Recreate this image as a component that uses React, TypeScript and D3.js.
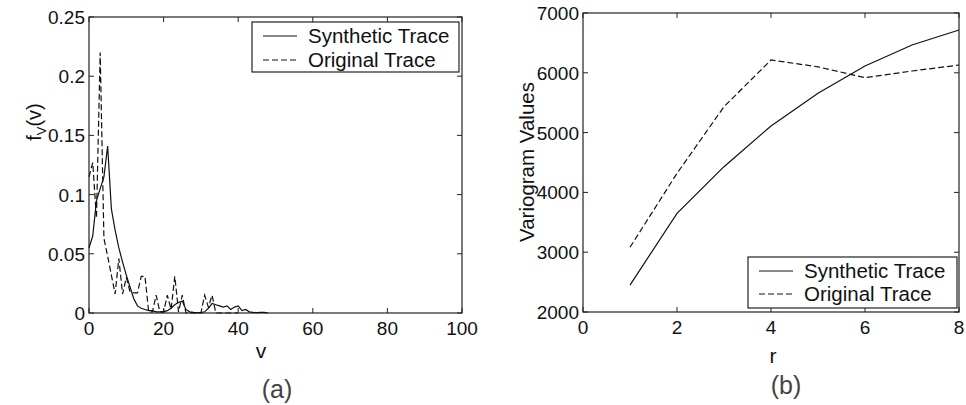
import React from "react";
import * as d3 from "d3";

// panel (a): density of v, integer v from 0
const vSynthetic = [0.055, 0.065, 0.095, 0.105, 0.115, 0.141, 0.088, 0.07, 0.055, 0.043, 0.032, 0.022, 0.012, 0.006, 0.004, 0.003, 0.002, 0.002, 0.001, 0.001, 0.001, 0.002, 0.004, 0.007, 0.009, 0.01, 0.003, 0.001, 0.0005, 0.0003, 0.0003, 0.001, 0.004, 0.008, 0.007, 0.006, 0.005, 0.006, 0.003, 0.005, 0.006, 0.002, 0.003, 0.001, 0.0005, 0.0003, 0.0005, 0.0005, 0];
const vOriginal = [0.115, 0.127, 0.08, 0.22, 0.063, 0.048, 0.032, 0.016, 0.046, 0.016, 0.03, 0.018, 0.017, 0.017, 0.031, 0.031, 0.001, 0.001, 0.015, 0.001, 0.001, 0.015, 0.003, 0.031, 0.001, 0.015, 0, 0, 0, 0, 0, 0.015, 0.005, 0.015, 0, 0, 0, 0, 0, 0, 0];
const vTicks = [0, 20, 40, 60, 80, 100];
const fTicks = [0, 0.05, 0.1, 0.15, 0.2, 0.25];

// panel (b): variogram
const rValues = [1, 2, 3, 4, 5, 6, 7, 8];
const varSynthetic = [2450, 3650, 4430, 5110, 5657, 6114, 6465, 6716];
const varOriginal = [3082, 4319, 5433, 6214, 6100, 5918, 6030, 6130];
const rTicks = [0, 2, 4, 6, 8];
const varTicks = [2000, 3000, 4000, 5000, 6000, 7000];

const legendLabels = ["Synthetic Trace", "Original Trace"];

const font = "'Liberation Sans', Arial, Helvetica, sans-serif";
const ink = "#111";
const dash = "6,3";
const tickLen = 5;

type Frame = { x: d3.ScaleLinear<number, number>; y: d3.ScaleLinear<number, number> };

function Box({ x, y, xTicks, yTicks, yFmt }: Frame & { xTicks: number[]; yTicks: number[]; yFmt: (d: number) => string }) {
  const [x0, x1] = x.range();
  const [y0, y1] = y.range();
  return (
    <g>
      <rect x={x0} y={y1} width={x1 - x0} height={y0 - y1} fill="none" stroke="#222" strokeWidth={1.2} />
      {xTicks.map((t) => (
        <g key={"x" + t}>
          <line x1={x(t)} x2={x(t)} y1={y0} y2={y0 - tickLen} stroke="#222" />
          <line x1={x(t)} x2={x(t)} y1={y1} y2={y1 + tickLen} stroke="#222" />
          <text x={x(t)} y={y0 + 22} textAnchor="middle" fontSize={19} fill={ink}>{t}</text>
        </g>
      ))}
      {yTicks.map((t) => (
        <g key={"y" + t}>
          <line x1={x0} x2={x0 + tickLen} y1={y(t)} y2={y(t)} stroke="#222" />
          <line x1={x1} x2={x1 - tickLen} y1={y(t)} y2={y(t)} stroke="#222" />
          <text x={x0 - 4} y={y(t) + 7} textAnchor="end" fontSize={19} fill={ink}>{yFmt(t)}</text>
        </g>
      ))}
    </g>
  );
}

function Legend({ x, y, w, h, rowGap }: { x: number; y: number; w: number; h: number; rowGap: number }) {
  const r1 = y + 14;
  return (
    <g>
      <rect x={x} y={y} width={w} height={h} fill="#fff" stroke="#222" strokeWidth={1.2} />
      {legendLabels.map((lab, i) => (
        <g key={lab}>
          <line x1={x + 11} x2={x + 45} y1={r1 + i * rowGap} y2={r1 + i * rowGap} stroke={ink} strokeWidth={1.2} strokeDasharray={i === 1 ? dash : undefined} />
          <text x={x + 56} y={r1 + i * rowGap + 7} fontSize={20.5} fill={ink}>{lab}</text>
        </g>
      ))}
    </g>
  );
}

export default function App() {
  // panel (a)
  const xa = d3.scaleLinear().domain([0, 100]).range([89, 462]);
  const ya = d3.scaleLinear().domain([0, 0.25]).range([313, 17]);
  const lineA = d3.line<number>().x((_, i) => xa(i)).y((d) => ya(d));

  // panel (b)
  const xb = d3.scaleLinear().domain([0, 8]).range([583, 959]);
  const yb = d3.scaleLinear().domain([2000, 7000]).range([312, 13]);
  const lineB = d3.line<number>().x((_, i) => xb(rValues[i])).y((d) => yb(d));

  return (
    <svg width={966} height={405} style={{ position: "absolute", left: 0, top: 0, background: "#fff" }} fontFamily={font}>
      <rect width={966} height={405} fill="#fff" />

      {/* (a) */}
      <Box x={xa} y={ya} xTicks={vTicks} yTicks={fTicks} yFmt={(d) => (d === 0 ? "0" : String(d))} />
      <path d={lineA(vOriginal) || ""} fill="none" stroke={ink} strokeWidth={1.2} strokeDasharray={dash} />
      <path d={lineA(vSynthetic) || ""} fill="none" stroke={ink} strokeWidth={1.2} />
      <Legend x={252} y={22} w={207} h={50} rowGap={24} />
      <text transform="translate(41,122) rotate(-90)" textAnchor="middle" fontSize={20} fill={ink}>
        f<tspan fontSize={13} dy={5}>V</tspan><tspan dy={-5}>(v)</tspan>
      </text>
      <text x={261} y={358} textAnchor="middle" fontSize={21} fill={ink}>v</text>
      <text x={277} y={398} textAnchor="middle" fontSize={25} fill="#444">(a)</text>

      {/* (b) */}
      <Box x={xb} y={yb} xTicks={rTicks} yTicks={varTicks} yFmt={(d) => String(d)} />
      <path d={lineB(varOriginal) || ""} fill="none" stroke={ink} strokeWidth={1.2} strokeDasharray={dash} />
      <path d={lineB(varSynthetic) || ""} fill="none" stroke={ink} strokeWidth={1.2} />
      <Legend x={748} y={257} w={209} h={51} rowGap={23} />
      <text transform="translate(534,162) rotate(-90)" textAnchor="middle" fontSize={20.5} fill={ink}>Variogram Values</text>
      <text x={773} y={363} textAnchor="middle" fontSize={21} fill={ink}>r</text>
      <text x={786} y={394} textAnchor="middle" fontSize={25} fill="#444">(b)</text>
    </svg>
  );
}
